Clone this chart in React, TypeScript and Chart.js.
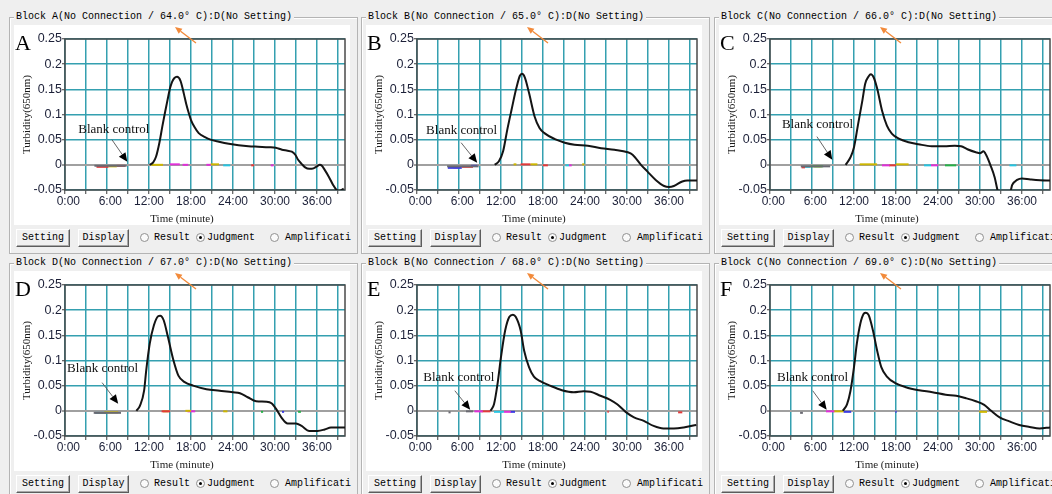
import React, { useEffect, useRef } from "react";
import { Chart, registerables } from "chart.js";

Chart.register(...registerables);

// ---------- axes ----------
const X_MAX = 40; // minutes
const X_GRID = [0, 3, 6, 9, 12, 15, 18, 21, 24, 27, 30, 33, 36, 39];
const X_LABEL_EVERY = 6;
const Y_MIN = -0.05;
const Y_MAX = 0.25;
const Y_TICKS = [-0.05, 0, 0.05, 0.1, 0.15, 0.2, 0.25];
const Y_TITLE = "Turbidity(650nm)";
const X_TITLE = "Time (minute)";

// ---------- panels ----------
const PANEL_LETTERS = ["A", "B", "C", "D", "E", "F"];
const BLOCK_NAMES = ["A", "B", "C", "D", "B", "C"];
const TEMPERATURES = ["64.0", "65.0", "66.0", "67.0", "68.0", "69.0"];

// ---------- sample curves (time in minutes, turbidity) ----------
const TIME_A = [12.1, 12.6, 13.0, 13.5, 13.9, 14.3, 14.65, 15.0, 15.3, 15.6, 16.0, 16.5, 17.0, 17.3, 17.7, 18.0, 18.5, 19.1, 20.0, 20.8, 22.0, 23.4, 24.8, 26.2, 27.6, 29.1, 30.1, 31.0, 31.8, 32.4, 32.9, 33.3, 33.8, 34.3, 34.9, 35.5, 36.0, 36.4, 36.7, 37.1, 37.7, 38.3, 38.8, 39.2, 39.8];
const TURB_A = [0, 0.005, 0.016, 0.045, 0.076, 0.105, 0.129, 0.152, 0.165, 0.172, 0.175, 0.167, 0.14, 0.122, 0.102, 0.089, 0.075, 0.063, 0.055, 0.05, 0.046, 0.042, 0.039, 0.037, 0.036, 0.035, 0.034, 0.03, 0.028, 0.026, 0.02, 0.01, 0.002, -0.005, -0.008, -0.007, -0.003, 0.0, -0.002, -0.01, -0.024, -0.04, -0.05, -0.052, -0.047];

const TIME_B = [11.1, 11.7, 12.3, 12.9, 13.5, 14.2, 14.7, 15.0, 15.4, 16.0, 16.8, 17.5, 18.2, 19.7, 21.1, 22.5, 24.4, 26.3, 28.2, 30.1, 30.8, 32.0, 32.9, 34.1, 35.3, 36.0, 36.7, 37.9, 38.6, 40];
const TURB_B = [0, 0.007, 0.027, 0.07, 0.109, 0.153, 0.177, 0.181, 0.174, 0.143, 0.096, 0.073, 0.063, 0.051, 0.044, 0.04, 0.038, 0.033, 0.03, 0.025, 0.02, 0.0, -0.013, -0.03, -0.042, -0.044, -0.042, -0.033, -0.031, -0.031];

const TIME_C = [10.8, 11.5, 12.0, 12.6, 13.2, 13.6, 14.1, 14.4, 14.8, 15.3, 16.0, 16.7, 17.4, 18.4, 19.8, 21.2, 23.1, 24.9, 26.4, 27.3, 28.2, 29.4, 30.0, 30.5, 30.9, 31.5, 32.1, 32.5, 33.4, 34.4, 34.6, 35.3, 36.0, 37.2, 39.5, 40];
const TURB_C = [0, 0.015, 0.035, 0.082, 0.128, 0.161, 0.176, 0.18, 0.174, 0.152, 0.108, 0.078, 0.062, 0.052, 0.045, 0.041, 0.037, 0.037, 0.038, 0.037, 0.031, 0.025, 0.023, 0.027, 0.019, -0.001, -0.025, -0.05, -0.08, -0.05, -0.04, -0.03, -0.027, -0.029, -0.031, -0.031];

const TIME_D = [10.2, 10.7, 11.3, 11.6, 12.1, 12.7, 13.3, 13.6, 14.1, 14.7, 15.5, 16.2, 17.1, 18.3, 20.2, 22.1, 24.0, 25.0, 26.1, 27.3, 28.8, 29.5, 30.2, 30.9, 31.8, 33.0, 33.8, 34.9, 36.1, 37.1, 38.0, 40];
const TURB_D = [0, 0.01, 0.04, 0.08, 0.133, 0.17, 0.188, 0.189, 0.18, 0.147, 0.1, 0.07, 0.057, 0.05, 0.043, 0.04, 0.037, 0.035, 0.027, 0.019, 0.018, 0.015, 0.003, -0.013, -0.025, -0.025, -0.03, -0.04, -0.04, -0.037, -0.033, -0.033];

const TIME_E = [10.5, 11.0, 11.5, 12.0, 12.6, 13.2, 13.7, 14.1, 14.8, 15.3, 16.0, 16.7, 17.6, 19.0, 20.7, 22.4, 23.8, 24.8, 26.2, 27.6, 28.6, 29.8, 31.0, 32.4, 33.8, 35.2, 36.7, 38.1, 39.9];
const TURB_E = [0, 0.013, 0.053, 0.107, 0.16, 0.187, 0.191, 0.187, 0.16, 0.12, 0.087, 0.068, 0.059, 0.05, 0.041, 0.037, 0.039, 0.038, 0.03, 0.022, 0.013, -0.002, -0.013, -0.02, -0.03, -0.035, -0.035, -0.033, -0.028];

const TIME_F = [10.4, 11.0, 11.5, 12.0, 12.4, 12.9, 13.4, 13.7, 14.1, 14.7, 15.3, 15.9, 16.7, 17.9, 19.4, 21.3, 23.2, 25.1, 26.6, 28.0, 29.4, 30.6, 31.6, 32.8, 34.2, 35.6, 37.1, 38.5, 40];
const TURB_F = [0, 0.013, 0.04, 0.087, 0.133, 0.173, 0.193, 0.195, 0.19, 0.16, 0.12, 0.087, 0.068, 0.055, 0.047, 0.041, 0.037, 0.032, 0.03, 0.025, 0.019, 0.012, 0.0, -0.013, -0.021, -0.028, -0.032, -0.035, -0.033];

// ---------- other wells / blank control: [start min, end min, turbidity, colour key] ----------
const SEG_A = [[4.2, 8.8, -0.002, "k"], [4.5, 6.2, -0.004, "r"], [6.2, 7.4, -0.003, "y"], [7.4, 8.6, -0.002, "r"], [12.3, 14.0, 0, "y"], [15.0, 16.4, 0.001, "m"], [16.8, 17.6, 0, "m"], [20.2, 20.8, 0, "m"], [20.8, 22.0, 0.001, "y"], [22.6, 23.6, -0.001, "c"], [26.6, 27.0, -0.001, "r"], [29.4, 29.8, -0.001, "m"]];
const SEG_B = [[4.3, 8.8, -0.003, "k"], [4.4, 6.4, -0.006, "b"], [5.2, 6.0, -0.005, "p"], [6.4, 8.0, -0.004, "r"], [7.7, 8.6, -0.002, "b"], [13.8, 14.2, 0.001, "y"], [14.8, 16.2, 0.001, "r"], [16.2, 17.2, 0.001, "y"], [18.0, 18.7, -0.001, "r"], [21.2, 21.7, -0.001, "c"], [21.7, 22.1, -0.001, "m"], [23.6, 23.9, 0.001, "y"]];
const SEG_C = [[4.4, 8.6, -0.003, "k"], [4.5, 5.0, -0.005, "r"], [5.0, 5.8, -0.004, "c"], [5.8, 7.6, -0.003, "g"], [6.3, 7.4, -0.003, "y"], [12.8, 15.3, 0.001, "y"], [16.0, 17.1, -0.001, "m"], [17.0, 18.0, -0.001, "r"], [18.0, 19.8, 0.001, "y"], [22.0, 23.0, -0.001, "c"], [23.0, 24.0, -0.001, "m"], [25.0, 26.6, -0.001, "g"], [34.2, 35.2, -0.001, "c"]];
const SEG_D = [[4.1, 8.0, -0.004, "k"], [4.3, 6.0, -0.004, "t"], [5.6, 7.6, -0.003, "y"], [13.8, 15.0, -0.001, "r"], [14.0, 14.8, -0.001, "y"], [17.2, 18.0, 0, "y"], [17.5, 18.6, -0.001, "m"], [22.6, 23.2, -0.001, "y"], [28.0, 28.3, -0.002, "g"], [31.0, 31.3, -0.002, "b"], [33.3, 33.7, -0.002, "g"]];
const SEG_E = [[4.5, 4.8, -0.003, "k"], [7.0, 8.0, -0.001, "k"], [8.2, 9.4, -0.001, "m"], [9.2, 10.5, -0.001, "r"], [11.0, 12.4, -0.002, "c"], [12.4, 13.4, -0.002, "m"], [13.3, 14.0, -0.002, "b"], [27.2, 27.4, -0.002, "r"], [37.3, 37.9, -0.003, "r"]];
const SEG_F = [[4.3, 4.7, -0.004, "k"], [8.0, 9.2, -0.001, "m"], [9.0, 10.5, -0.001, "y"], [10.5, 11.6, -0.002, "b"], [17.9, 18.1, -0.002, "b"], [29.9, 31.0, -0.002, "y"]];

// ---------- "Blank control" annotation: label [x, y], arrow [x1, y1, x2, y2] (data units) ----------
const BLANK_LABEL = [[1.9, 0.071], [1.3, 0.069], [1.7, 0.079], [0.3, 0.083], [0.9, 0.067], [1.0, 0.067]];
const BLANK_ARROW = [[6.7, 0.05, 8.9, 0.006], [6.3, 0.044, 8.6, 0.004], [6.7, 0.056, 8.9, 0.01], [5.3, 0.056, 7.6, 0.014], [5.4, 0.04, 7.6, 0.002], [6.1, 0.04, 8.1, 0.002]];

const SEG_COLORS: Record<string, string> = {
  k: "#6a6a72", r: "#e23a3a", y: "#cdb600", m: "#e030d8", c: "#28c4e0",
  b: "#3a3ae0", g: "#26b048", p: "#8a40c8", t: "#3c9ca8",
};

const TIMES = [TIME_A, TIME_B, TIME_C, TIME_D, TIME_E, TIME_F];
const TURBS = [TURB_A, TURB_B, TURB_C, TURB_D, TURB_E, TURB_F];
const SEGS = [SEG_A, SEG_B, SEG_C, SEG_D, SEG_E, SEG_F];

// ---------- look ----------
const BG = "#efefef";
const GRID = "#34a0b0";
const ZERO = "#a0a0a0";
const FRAME = "#4a4a4a";
const TICK_TXT = "#1c2038";
const SANS = '"Liberation Sans", Arial, sans-serif';
const SERIF = '"Liberation Serif", "Times New Roman", serif';
const MONO = '"Liberation Mono", "Courier New", monospace';
const COL_X = [0, 352, 705];
const ROW_Y = [0, 246];

function fmtTime(v: number) {
  const s = `${v}:00`;
  return v < 10 ? "\u2007" + s : s;
}

function fmtY(v: number) {
  return String(Math.round(v * 100) / 100);
}

function arrowHeadPoints(x1: number, y1: number, x2: number, y2: number, len: number, half: number) {
  const dx = x2 - x1, dy = y2 - y1;
  const d = Math.hypot(dx, dy) || 1;
  const ux = dx / d, uy = dy / d;
  const bx = x2 - ux * len, by = y2 - uy * len;
  return [[x2, y2], [bx - uy * half, by + ux * half], [bx + uy * half, by - ux * half]];
}

function makeDecor(idx: number) {
  return {
    id: "decor" + idx,
    beforeDatasetsDraw(chart: any) {
      const { ctx, chartArea: a } = chart;
      ctx.save();
      ctx.strokeStyle = FRAME;
      ctx.lineWidth = 1.5;
      ctx.strokeRect(a.left, a.top, a.right - a.left, a.bottom - a.top);
      ctx.restore();
    },
    afterDatasetsDraw(chart: any) {
      const { ctx, chartArea: a, scales } = chart;
      const xs = scales.x, ys = scales.y;
      ctx.save();
      // panel letter
      ctx.fillStyle = "#000";
      ctx.font = `22px ${SERIF}`;
      ctx.textAlign = "left";
      ctx.textBaseline = "alphabetic";
      ctx.fillText(PANEL_LETTERS[idx], 1, a.top + 11);
      // y title
      ctx.fillStyle = "#1a1a1a";
      ctx.font = `11px ${SERIF}`;
      ctx.save();
      ctx.translate(13, (a.top + a.bottom) / 2);
      ctx.rotate(-Math.PI / 2);
      ctx.textAlign = "center";
      ctx.textBaseline = "middle";
      ctx.fillText(Y_TITLE, 0, 0);
      ctx.restore();
      // x title
      ctx.textAlign = "center";
      ctx.textBaseline = "middle";
      ctx.fillText(X_TITLE, chart.width / 2, a.bottom + 29);
      // blank control label
      const lab = BLANK_LABEL[idx];
      ctx.font = `13px ${SERIF}`;
      ctx.fillStyle = "#111";
      ctx.textAlign = "left";
      ctx.fillText("Blank control", xs.getPixelForValue(lab[0]), ys.getPixelForValue(lab[1]));
      // arrow
      const ar = BLANK_ARROW[idx];
      const x1 = xs.getPixelForValue(ar[0]), y1 = ys.getPixelForValue(ar[1]);
      const x2 = xs.getPixelForValue(ar[2]), y2 = ys.getPixelForValue(ar[3]);
      const pts = arrowHeadPoints(x1, y1, x2, y2, 9, 4);
      ctx.strokeStyle = "#555";
      ctx.lineWidth = 0.9;
      ctx.beginPath();
      ctx.moveTo(x1, y1);
      ctx.lineTo((pts[1][0] + pts[2][0]) / 2, (pts[1][1] + pts[2][1]) / 2);
      ctx.stroke();
      ctx.fillStyle = "#000";
      ctx.beginPath();
      ctx.moveTo(pts[0][0], pts[0][1]);
      ctx.lineTo(pts[1][0], pts[1][1]);
      ctx.lineTo(pts[2][0], pts[2][1]);
      ctx.closePath();
      ctx.fill();
      ctx.restore();
    },
  };
}

function Panel({ idx }: { idx: number }) {
  const ref = useRef<HTMLCanvasElement | null>(null);
  const left = COL_X[idx % 3];
  const top = ROW_Y[Math.floor(idx / 3)];

  useEffect(() => {
    const canvas = ref.current;
    if (!canvas) return;
    const time = TIMES[idx], turb = TURBS[idx];
    const main: any = {
      label: "sample",
      data: time.map((x, i) => ({ x, y: turb[i] })),
      borderColor: "#141414",
      borderWidth: 2,
      cubicInterpolationMode: "monotone",
      pointRadius: 0,
      fill: false,
    };
    const segs: any[] = SEGS[idx].map((s: any) => ({
      label: "well",
      data: [{ x: s[0], y: s[2] }, { x: s[1], y: s[2] }],
      borderColor: SEG_COLORS[s[3]],
      borderWidth: 2,
      pointRadius: 0,
      borderCapStyle: "butt",
      fill: false,
    }));
    const chart = new Chart(canvas, {
      type: "line",
      data: { datasets: [main, ...segs] },
      options: {
        animation: false,
        responsive: false,
        devicePixelRatio: 1,
        events: [],
        layout: { padding: { left: 0, right: 5, top: 14, bottom: 0 } },
        plugins: { legend: { display: false }, tooltip: { enabled: false }, title: { display: false } },
        elements: { point: { radius: 0 } },
        scales: {
          x: {
            type: "linear",
            min: 0,
            max: X_MAX,
            afterFit: (s: any) => { s.height = 35; },
            afterBuildTicks: (s: any) => { s.ticks = X_GRID.map((v) => ({ value: v })); },
            grid: { color: GRID, lineWidth: 1.5, tickLength: 4, tickColor: "#3a3a3a", tickWidth: 1 },
            border: { display: false },
            ticks: {
              autoSkip: false,
              maxRotation: 0,
              minRotation: 0,
              padding: 0,
              color: TICK_TXT,
              font: { family: SANS, size: 12 },
              callback: (v: any) => (Number(v) % X_LABEL_EVERY === 0 ? fmtTime(Number(v)) : ""),
            },
          },
          y: {
            type: "linear",
            min: Y_MIN,
            max: Y_MAX,
            afterFit: (s: any) => { s.width = 51; },
            afterBuildTicks: (s: any) => { s.ticks = Y_TICKS.map((v) => ({ value: v })); },
            grid: {
              color: (c: any) => (c.tick && Math.abs(c.tick.value) < 1e-9 ? ZERO : GRID),
              lineWidth: (c: any) => (c.tick && Math.abs(c.tick.value) < 1e-9 ? 2 : 1.5),
              tickLength: 3,
              tickColor: "#3a3a3a",
              tickWidth: 1,
            },
            border: { display: false },
            ticks: {
              padding: 0,
              color: TICK_TXT,
              font: { family: SANS, size: 12.5 },
              callback: (v: any) => fmtY(Number(v)),
            },
          },
        },
      } as any,
      plugins: [makeDecor(idx)],
    } as any);
    return () => chart.destroy();
  }, [idx]);

  const title = `Block ${BLOCK_NAMES[idx]}(No Connection / ${TEMPERATURES[idx]}\u00b0 C):D(No Setting)`;
  const orange = arrowHeadPoints(196, 43, 175, 27, 7, 3);

  const monoText = (txt: string, x: number, y: number, extra: any = {}) => (
    <div style={{ position: "absolute", left: x, top: y, font: `10px ${MONO}`, lineHeight: "14px", color: "#000", whiteSpace: "pre", ...extra }}>{txt}</div>
  );
  const button = (label: string, x: number, w: number) => (
    <div style={{
      position: "absolute", left: x, top: 229, width: w, height: 18, boxSizing: "border-box",
      borderTop: "1px solid #ffffff", borderLeft: "1px solid #ffffff",
      borderRight: "1px solid #5c5c5c", borderBottom: "1px solid #5c5c5c",
      boxShadow: "inset -1px -1px 0 #a8a8a8", background: "#f0f0f0",
      font: `10px ${MONO}`, lineHeight: "16px", textAlign: "center", color: "#000", whiteSpace: "pre",
    }}>{label}</div>
  );
  const radio = (x: number, checked: boolean) => (
    <div style={{ position: "absolute", left: x, top: 233, width: 9, height: 9, borderRadius: "50%", border: "1px solid #909090", background: "#fafafa", boxSizing: "border-box" }}>
      {checked ? <div style={{ position: "absolute", left: 2, top: 2, width: 3, height: 3, borderRadius: "50%", background: "#000" }} /> : null}
    </div>
  );

  return (
    <div style={{ position: "absolute", left, top, width: 352, height: 246 }}>
      <div style={{ position: "absolute", left: 9, top: 17, width: 349, height: 237, boxSizing: "border-box", border: "1px solid #b4b4b4", boxShadow: "inset 1px 1px 0 #ffffff" }} />
      {monoText(title, 14, 10, { background: BG, padding: "0 2px" })}
      <canvas ref={ref} width={336} height={200} style={{ position: "absolute", left: 14, top: 25, width: 336, height: 200, background: "#ffffff" }} />
      <svg width={352} height={60} style={{ position: "absolute", left: 0, top: 0, overflow: "visible" }}>
        <line x1={196} y1={43} x2={(orange[1][0] + orange[2][0]) / 2} y2={(orange[1][1] + orange[2][1]) / 2} stroke="#f28a3a" strokeWidth={1.3} />
        <polygon points={orange.map((p) => p.join(",")).join(" ")} fill="#f28a3a" />
      </svg>
      {button("Setting", 16, 54)}
      {button("Display", 78, 51)}
      {radio(140, false)}
      {monoText("Result", 154, 231)}
      {radio(196, true)}
      {monoText("Judgment", 207, 231)}
      {radio(270, false)}
      {monoText("Amplificati", 285, 231)}
    </div>
  );
}

export default function App() {
  return (
    <div style={{ position: "fixed", left: 0, top: 0, width: 1052, height: 494, background: BG, overflow: "hidden" }}>
      {PANEL_LETTERS.map((_, i) => (
        <Panel key={i} idx={i} />
      ))}
    </div>
  );
}
